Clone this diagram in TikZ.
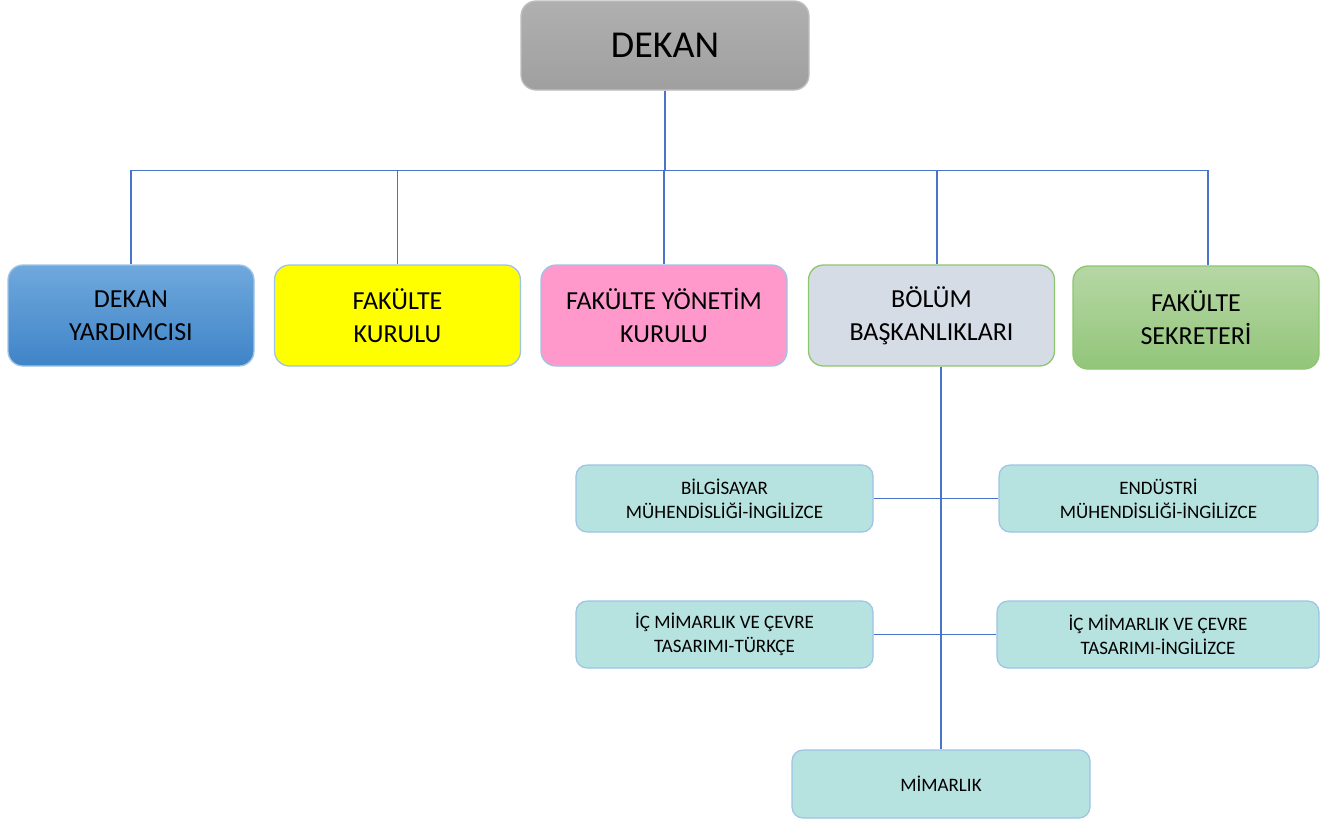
\documentclass[tikz,border=0pt]{standalone}
\usepackage{fontspec}
\setmainfont{Carlito}

\definecolor{linkblue}{HTML}{4A74C8}
\definecolor{edgeblue}{HTML}{9DC3E6}
\definecolor{edgegreen}{HTML}{8CC66E}
\definecolor{deptfill}{HTML}{B6E2E0}

\tikzset{
	unit/.style={rounded corners=15pt, line width=1.3pt, align=center, inner sep=0pt,
		minimum width=246pt, minimum height=101pt, font=\fontsize{26}{33}\selectfont},
	dept/.style={rounded corners=11pt, line width=1.2pt, draw=edgeblue, fill=deptfill,
		align=center, inner sep=0pt, minimum height=67pt, font=\fontsize{19}{24}\selectfont},
	conn/.style={draw=linkblue, line width=1.1pt}
}

\begin{document}
\begin{tikzpicture}[x=1pt, y=-1pt]
		\useasboundingbox (0,0) rectangle (1341,823);
		% head of the faculty
		\node[unit, draw=gray!50, top color=gray!62, bottom color=gray!75,
			minimum width=288pt, minimum height=89pt, font=\fontsize{38}{40}\selectfont]
			(dekan) at (665,45.5) {DEKAN};
		% level two
		\node[unit, draw=edgeblue, top color={rgb,255:red,111;green,168;blue,220},
			bottom color={rgb,255:red,63;green,132;blue,200}] (yard) at (131,315.5) {DEKAN\\YARDIMCISI};
		\node[unit, draw=edgeblue, fill={rgb,255:red,255;green,255;blue,0}] (kurul) at (397.5,315.5) {FAKÜLTE\\KURULU};
		\node[unit, draw=edgeblue, fill={rgb,255:red,255;green,153;blue,204}] (yonetim) at (664,315.5) {FAKÜLTE YÖNETİM\\KURULU};
		\node[unit, draw=edgegreen, fill={rgb,255:red,214;green,220;blue,229}] (bolum) at (931.5,315.5) {BÖLÜM\\BAŞKANLIKLARI};
		\node[unit, draw=edgegreen, minimum height=103pt, top color={rgb,255:red,182;green,215;blue,165},
			bottom color={rgb,255:red,146;green,197;blue,122}] (sekr) at (1196,317.5) {FAKÜLTE\\SEKRETERİ};
		% departments
		\node[dept, minimum width=297pt] (bilg) at (724.5,498.5) {BİLGİSAYAR\\MÜHENDİSLİĞİ-İNGİLİZCE};
		\node[dept, minimum width=319pt] (endu) at (1158.5,498.5) {ENDÜSTRİ\\MÜHENDİSLİĞİ-İNGİLİZCE};
		\node[dept, minimum width=297pt] (ict) at (724.5,634.5) {İÇ MİMARLIK VE ÇEVRE\\TASARIMI-TÜRKÇE};
		\node[dept, minimum width=322pt] (ici) at (1158,634.5) {İÇ MİMARLIK VE ÇEVRE\\TASARIMI-İNGİLİZCE};
		\node[dept, minimum width=298pt, minimum height=68pt] (mimar) at (941,784) {MİMARLIK};
		% lines from the head
		\foreach \n/\s in {yard/0,kurul/0,yonetim/0,bolum/5.5,sekr/12}
		{
			\draw[conn] (dekan.south) -- ++(0,80) -| ([xshift=\s pt]\n.north);
		}
		% lines to the departments
		\draw[conn] ([xshift=9.5pt]bolum.south) -- (mimar.north);
		\draw[conn] (bilg.east) -- (endu.west);
		\draw[conn] (ict.east) -- (ici.west);
	\end{tikzpicture}
\end{document}
